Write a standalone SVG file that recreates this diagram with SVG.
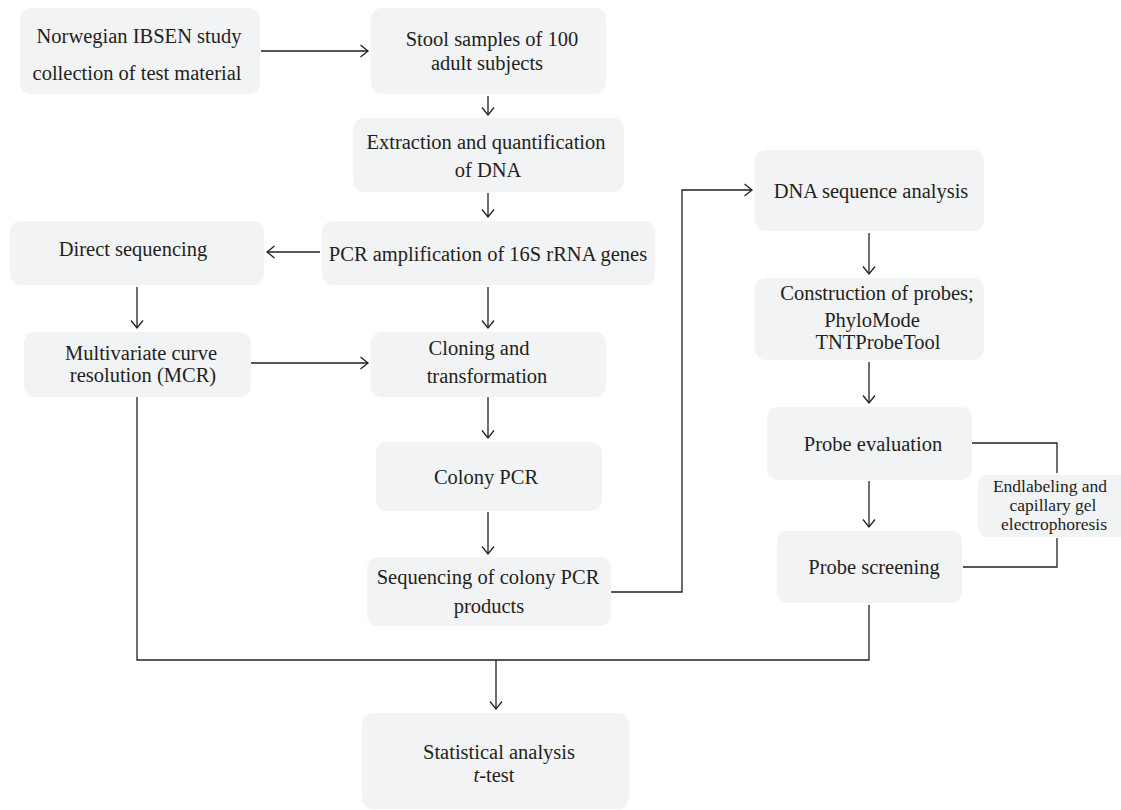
<svg xmlns="http://www.w3.org/2000/svg" width="1121" height="810" viewBox="0 0 1121 810">
<defs>
<style>
.box{fill:#f2f3f4;stroke:none}
.t{font-family:"Liberation Serif","Times New Roman",serif;font-size:20.5px;fill:#231f20;text-anchor:middle}
.s{font-size:17.5px}
.c{fill:none;stroke:#231f20;stroke-width:1.3}
</style>
<marker id="ah" viewBox="0 0 10 14" refX="8.5" refY="7" markerWidth="10" markerHeight="14" markerUnits="userSpaceOnUse" orient="auto">
<path d="M1,1 L8.5,7 L1,13" fill="none" stroke="#231f20" stroke-width="1.3"/>
</marker>
</defs>
<rect width="1121" height="810" fill="#ffffff"/>
<g id="n1"><rect class="box" x="20" y="8" width="240" height="86" rx="11"/>
<text class="t" x="139" y="43">Norwegian IBSEN study</text><text class="t" x="137" y="80">collection of test material</text></g>
<g id="n2"><rect class="box" x="371" y="8" width="235" height="86" rx="11"/>
<text class="t" x="492" y="46">Stool samples of 100</text><text class="t" x="487" y="70">adult subjects</text></g>
<g id="n3"><rect class="box" x="353" y="118" width="271" height="74" rx="11"/>
<text class="t" x="486" y="149">Extraction and quantification</text><text class="t" x="488" y="177">of DNA</text></g>
<g id="n4"><rect class="box" x="322" y="221" width="333" height="64" rx="11"/>
<text class="t" x="488" y="261">PCR amplification of 16S rRNA genes</text></g>
<g id="n5"><rect class="box" x="10" y="221" width="254" height="64" rx="11"/>
<text class="t" x="133" y="256">Direct sequencing</text></g>
<g id="n6"><rect class="box" x="24" y="332" width="227" height="65" rx="11"/>
<text class="t" x="141" y="360">Multivariate curve</text><text class="t" x="143" y="382">resolution (MCR)</text></g>
<g id="n7"><rect class="box" x="371" y="332" width="235" height="65" rx="11"/>
<text class="t" x="479" y="355">Cloning and</text><text class="t" x="487" y="383">transformation</text></g>
<g id="n8"><rect class="box" x="376" y="442" width="226" height="69" rx="11"/>
<text class="t" x="486" y="484">Colony PCR</text></g>
<g id="n9"><rect class="box" x="367" y="557" width="244" height="69" rx="11"/>
<text class="t" x="488" y="584">Sequencing of colony PCR</text><text class="t" x="489" y="613">products</text></g>
<g id="n10"><rect class="box" x="362" y="713" width="267" height="96" rx="11"/>
<text class="t" x="499" y="759">Statistical analysis</text><text class="t" x="494" y="782"><tspan font-style="italic">t</tspan>-test</text></g>
<g id="n11"><rect class="box" x="755" y="150" width="229" height="81" rx="11"/>
<text class="t" x="871" y="198">DNA sequence analysis</text></g>
<g id="n12"><rect class="box" x="755" y="278" width="229" height="82" rx="11"/>
<text class="t" x="877" y="300">Construction of probes;</text><text class="t" x="872" y="327">PhyloMode</text><text class="t" x="878" y="349">TNTProbeTool</text></g>
<g id="n13"><rect class="box" x="767" y="407" width="205" height="73" rx="11"/>
<text class="t" x="873" y="451">Probe evaluation</text></g>
<g id="n14"><rect class="box" x="777" y="531" width="185" height="72" rx="11"/>
<text class="t" x="874" y="574">Probe screening</text></g>
<g id="n15"><rect class="box" x="978" y="475" width="150" height="62" rx="9"/>
<text class="t s" x="1050" y="492">Endlabeling and</text><text class="t s" x="1053" y="511">capillary gel</text><text class="t s" x="1054" y="530">electrophoresis</text></g>
<g id="connectors">
<line class="c" x1="261" y1="51" x2="368" y2="51" marker-end="url(#ah)"/>
<line class="c" x1="488" y1="96" x2="488" y2="115" marker-end="url(#ah)"/>
<line class="c" x1="488" y1="193" x2="488" y2="217" marker-end="url(#ah)"/>
<line class="c" x1="320" y1="252" x2="267" y2="252" marker-end="url(#ah)"/>
<line class="c" x1="137" y1="287" x2="137" y2="328" marker-end="url(#ah)"/>
<line class="c" x1="488" y1="287" x2="488" y2="328" marker-end="url(#ah)"/>
<line class="c" x1="251" y1="363" x2="368" y2="363" marker-end="url(#ah)"/>
<line class="c" x1="488" y1="397" x2="488" y2="438" marker-end="url(#ah)"/>
<line class="c" x1="488" y1="512" x2="488" y2="554" marker-end="url(#ah)"/>
<polyline class="c" points="611,592 682,592 682,190 752,190" marker-end="url(#ah)"/>
<line class="c" x1="869" y1="233" x2="869" y2="274" marker-end="url(#ah)"/>
<line class="c" x1="869" y1="362" x2="869" y2="403" marker-end="url(#ah)"/>
<line class="c" x1="869" y1="481" x2="869" y2="527" marker-end="url(#ah)"/>
<polyline class="c" points="972,443 1057,443 1057,473"/>
<polyline class="c" points="1057,538 1057,567 963,567"/>
<polyline class="c" points="137,397 137,660 869,660 869,605"/>
<line class="c" x1="496" y1="660" x2="496" y2="709" marker-end="url(#ah)"/>
</g>
</svg>
